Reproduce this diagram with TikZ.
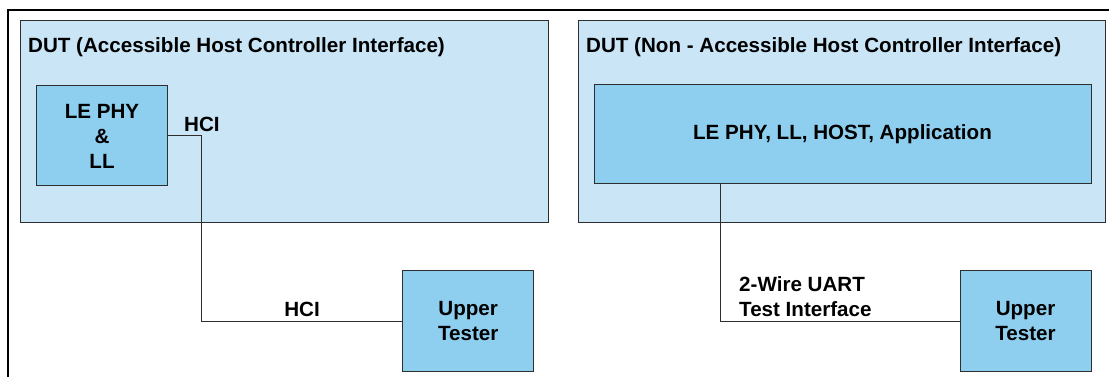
\documentclass[tikz,border=0pt]{standalone}
\usepackage{fontspec}
\setmainfont{Liberation Sans}
\usepackage{tikz}
\usetikzlibrary{positioning,calc}
\definecolor{DutBlue}{HTML}{C9E5F6}
\definecolor{BlockBlue}{HTML}{8ECFF0}
\definecolor{EdgeDark}{HTML}{2E2E2E}

\begin{document}
\begin{tikzpicture}[x=1pt, y=-1pt,
    every node/.style={font=\fontsize{20.6}{25}\selectfont\bfseries, text=black},
    DUT/.style={draw=EdgeDark, fill=DutBlue, line width=1pt,
        minimum width=528pt, minimum height=201pt, inner sep=0pt},
    BL/.style={draw=EdgeDark, fill=BlockBlue, line width=1pt,
        inner sep=0pt, align=center},
    UT/.style={BL, minimum width=131pt, minimum height=101pt},
    wire/.style={line width=1pt, EdgeDark},
    lbl/.style={inner sep=4pt},
  ]
  \useasboundingbox (0,0) rectangle (1109,377);
  \clip (0,0) rectangle (1109,377);

  % Frame
  \draw[line width=2pt] (7.5,400) |- (1130,10.5);

  % ACCESSIBLE HCI
  \node[DUT] (dutl) at (284,121.5) {};
  \node[anchor=base west, inner sep=0pt] (dutlt) at (28,53)
  {DUT (Accessible Host Controller Interface)};
  \node[BL, minimum width=130.5pt, minimum height=100pt] (phy) at (102,136)
  {LE PHY\\\&\\LL};
  \node[UT] (utl) at (468.2,321.4) {Upper\\Tester};

  % NON-ACCESSIBLE HCI
  \node[DUT, minimum width=527pt] (dutr) at (841.5,121.5) {};
  \node[anchor=base west, inner sep=0pt] (dutrt) at (586,53)
  {DUT (Non - Accessible Host Controller Interface)};
  \node[BL, minimum width=497pt, minimum height=99pt] (apps) at (842.5,134.5)
  {LE PHY, LL, HOST, Application};
  \node[UT] (utr) at (1025.5,321.4) {Upper\\Tester};

  % Links
  \draw[wire] (phy.east) -- ++(34.2,0) node[lbl, above]{HCI}
  |- node[lbl, pos=0.75, above]{HCI} (utl.west);
  \draw[wire] ([xshift=-122.5pt]apps.south) |- (utr.west);
  \node[inner sep=0pt, align=left, anchor=south west, text depth=0pt] (uart)
  at (739,316.5) {2-Wire UART\\Test Interface};
\end{tikzpicture}
\end{document}
